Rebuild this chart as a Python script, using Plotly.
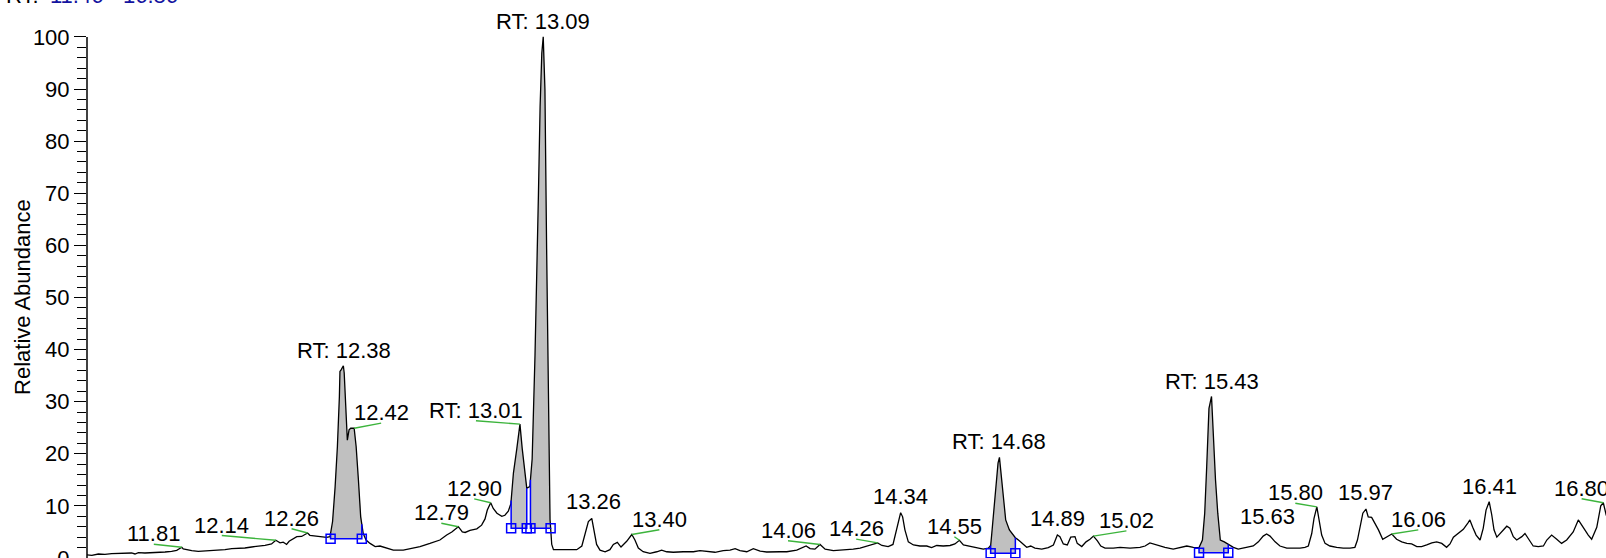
import numpy as np
import plotly.graph_objects as go

# ---------------- data (retention time in min, relative abundance in %) ----------------
rt = [11.478, 11.495, 11.518, 11.541, 11.565, 11.588, 11.612, 11.635, 11.647, 11.659,
      11.682, 11.706, 11.729, 11.753, 11.776, 11.794, 11.806, 11.812, 11.817, 11.829,
      11.847, 11.870, 11.894, 11.917, 11.940, 11.964, 11.988, 12.011, 12.034, 12.058,
      12.081, 12.105, 12.128, 12.143, 12.158, 12.169, 12.175, 12.181, 12.190, 12.205,
      12.217, 12.234, 12.255, 12.263, 12.281, 12.293, 12.310, 12.322, 12.334, 12.343,
      12.352, 12.360, 12.367, 12.369, 12.373, 12.381, 12.384, 12.389, 12.395, 12.401,
      12.407, 12.419, 12.426, 12.434, 12.442, 12.451, 12.461, 12.475, 12.493, 12.510,
      12.534, 12.557, 12.592, 12.627, 12.651, 12.686, 12.721, 12.745, 12.763, 12.786,
      12.800, 12.810, 12.827, 12.851, 12.868, 12.880, 12.888, 12.900, 12.909, 12.922,
      12.939, 12.950, 12.962, 12.971, 12.980, 12.992, 13.003, 13.011, 13.021, 13.027,
      13.038, 13.046, 13.056, 13.062, 13.068, 13.074, 13.080, 13.085, 13.091, 13.097,
      13.103, 13.109, 13.115, 13.121, 13.133, 13.168, 13.203, 13.221, 13.232, 13.244,
      13.256, 13.264, 13.273, 13.285, 13.303, 13.320, 13.332, 13.346, 13.359, 13.379,
      13.397, 13.408, 13.420, 13.437, 13.461, 13.485, 13.502, 13.520, 13.543, 13.578,
      13.614, 13.637, 13.661, 13.690, 13.719, 13.743, 13.761, 13.778, 13.802, 13.825,
      13.849, 13.872, 13.919, 13.943, 13.978, 13.995, 14.011, 14.025, 14.042, 14.060,
      14.078, 14.107, 14.142, 14.177, 14.201, 14.222, 14.243, 14.263, 14.278, 14.300,
      14.317, 14.330, 14.344, 14.351, 14.359, 14.371, 14.389, 14.412, 14.436, 14.453,
      14.471, 14.494, 14.518, 14.535, 14.551, 14.565, 14.588, 14.612, 14.635, 14.653,
      14.661, 14.665, 14.673, 14.680, 14.687, 14.692, 14.699, 14.706, 14.714, 14.727,
      14.741, 14.748, 14.762, 14.776, 14.788, 14.802, 14.817, 14.841, 14.864, 14.882,
      14.896, 14.905, 14.917, 14.931, 14.943, 14.958, 14.966, 14.982, 14.997, 15.011,
      15.023, 15.037, 15.049, 15.064, 15.093, 15.117, 15.152, 15.187, 15.205, 15.222,
      15.234, 15.252, 15.275, 15.304, 15.328, 15.352, 15.375, 15.395, 15.407, 15.415,
      15.422, 15.430, 15.439, 15.446, 15.453, 15.461, 15.470, 15.484, 15.498, 15.516,
      15.533, 15.551, 15.569, 15.586, 15.604, 15.621, 15.633, 15.645, 15.663, 15.680,
      15.704, 15.727, 15.751, 15.768, 15.780, 15.792, 15.800, 15.810, 15.818, 15.827,
      15.839, 15.856, 15.880, 15.903, 15.927, 15.944, 15.953, 15.962, 15.972, 15.983,
      15.991, 16.003, 16.015, 16.027, 16.042, 16.056, 16.074, 16.091, 16.109, 16.127,
      16.144, 16.162, 16.179, 16.197, 16.215, 16.232, 16.250, 16.267, 16.279, 16.291,
      16.308, 16.326, 16.343, 16.349, 16.359, 16.371, 16.385, 16.396, 16.406, 16.417,
      16.426, 16.434, 16.444, 16.458, 16.467, 16.479, 16.490, 16.502, 16.514, 16.532,
      16.543, 16.555, 16.572, 16.590, 16.608, 16.620, 16.637, 16.655, 16.672, 16.690,
      16.713, 16.731, 16.749, 16.766, 16.778, 16.796, 16.810, 16.819, 16.829, 16.845]

abundance = [0.60, 0.52, 0.77, 0.71, 0.83, 0.90, 0.90, 0.96, 0.77, 1.02,
             0.96, 1.02, 1.02, 1.15, 1.29, 1.48, 1.86, 2.05, 1.73, 1.54,
             1.40, 1.29, 1.34, 1.40, 1.48, 1.59, 1.79, 1.79, 1.92, 2.11,
             2.25, 2.44, 2.69, 3.40, 2.90, 3.05, 2.82, 2.60, 3.21, 3.78,
             4.09, 4.13, 4.80, 4.36, 4.28, 4.09, 4.09, 3.97, 4.10, 7.0,
             13.7, 21.4, 31.0, 35.8, 36.1, 36.9, 35.5, 29.7, 22.6, 24.6,
             24.9, 24.9, 21.4, 15.0, 7.9, 4.7, 3.45, 2.8, 2.2, 2.3,
             1.9, 1.5, 1.5, 1.9, 2.2, 2.8, 3.45, 4.4, 5.0, 6.0,
             5.0, 4.9, 5.3, 5.6, 6.3, 7.5, 9.2, 10.6, 9.5, 8.6,
             8.0, 8.2, 9.0, 10.4, 16.3, 21.0, 25.7, 21.0, 15.6, 13.4,
             13.7, 19.0, 38.8, 52.5, 69.5, 86.6, 96.9, 100.0, 90.0, 59.3,
             28.6, 7.4, 2.6, 1.6, 1.6, 1.6, 1.6, 2.3, 4.6, 7.0,
             7.6, 5.4, 2.6, 1.5, 1.2, 1.6, 2.6, 3.0, 2.1, 3.2,
             4.5, 3.45, 1.9, 1.2, 0.9, 1.2, 1.5, 1.2, 1.1, 1.2,
             1.2, 1.4, 1.3, 1.1, 1.4, 1.5, 1.8, 1.4, 1.2, 1.8,
             1.3, 1.15, 1.2, 1.2, 1.5, 1.9, 2.3, 1.8, 1.7, 2.6,
             1.7, 1.4, 1.5, 1.7, 1.9, 2.2, 2.6, 2.9, 2.4, 2.2,
             2.6, 5.4, 8.7, 7.9, 5.4, 3.1, 2.5, 2.3, 2.3, 2.0,
             2.4, 2.3, 2.4, 2.7, 3.4, 2.5, 2.2, 1.9, 1.7, 1.9,
             2.4, 4.7, 9.2, 14.3, 18.2, 19.3, 15.6, 11.1, 7.3, 5.4,
             4.4, 3.9, 3.3, 2.7, 2.05, 2.3, 1.9, 1.7, 2.0, 2.5,
             4.4, 4.1, 2.7, 2.5, 4.0, 4.1, 2.8, 2.2, 3.1, 3.6,
             4.2, 3.3, 2.3, 1.9, 1.9, 2.05, 1.9, 2.05, 2.3, 2.9,
             2.7, 2.3, 2.05, 1.7, 2.05, 2.3, 2.05, 2.0, 3.45, 8.6,
             17.5, 28.7, 31.0, 22.6, 15.0, 8.6, 3.45, 3.1, 2.6, 2.05,
             1.7, 1.9, 2.05, 2.3, 3.1, 4.2, 4.6, 4.2, 3.1, 2.3,
             1.9, 1.9, 1.9, 2.05, 2.3, 4.7, 7.6, 9.8, 7.3, 4.4,
             2.8, 2.3, 2.05, 1.9, 1.9, 2.05, 3.45, 6.0, 8.6, 9.4,
             7.9, 7.8, 6.7, 5.4, 3.6, 4.0, 4.6, 3.6, 3.1, 2.8,
             2.7, 2.2, 2.2, 2.5, 2.9, 3.1, 2.8, 2.05, 2.7, 4.0,
             4.7, 5.5, 6.8, 7.3, 5.9, 4.4, 3.45, 5.7, 9.2, 10.8,
             8.3, 5.4, 4.0, 4.9, 5.4, 6.1, 5.7, 4.1, 3.45, 4.1,
             4.7, 3.8, 2.3, 2.2, 2.3, 3.45, 4.4, 3.6, 2.8, 3.45,
             5.0, 7.3, 5.7, 4.4, 3.6, 5.9, 10.0, 10.6, 8.3, 6.0]

# peak labels
label_text = ["11.81", "12.14", "12.26", "RT: 12.38", "12.42", "12.79", "12.90",
              "RT: 13.01", "RT: 13.09", "13.26", "13.40", "14.06", "14.26", "14.34",
              "14.55", "RT: 14.68", "14.89", "15.02", "RT: 15.43", "15.63", "15.80",
              "15.97", "16.06", "16.41", "16.80"]
label_rt = [11.812, 12.143, 12.255, 12.381, 12.419, 12.786, 12.900,
            13.003, 13.085, 13.256, 13.397, 14.060, 14.263, 14.344,
            14.551, 14.692, 14.896, 15.023, 15.439, 15.633, 15.810,
            15.983, 16.074, 16.417, 16.819]

# integrated peaks: start RT, end RT, baseline level
int_start = [12.336, 12.972, 13.040, 14.661, 15.395]
int_end = [12.446, 13.027, 13.111, 14.748, 15.498]
int_base = [3.7, 5.7, 5.7, 0.9, 1.0]

title_range = "11.46 - 16.86"

# ---------------- layout / style parameters ----------------
label_dx = [-28, -54, -16, 1, 27, -17, -16.5, -44, 0, 2, 27.6, -32, -21.5, 0,
            -5, 0, 0, 33, 0, 1, -21.5, 0, 26.5, 0.7, -21.7]
label_dy = [4.6, 6.3, 5.7, 6.4, 6.6, 5.0, 5.4, 4.8, 7.0, 7.7, 6.3, 5.2, 5.3, 7.7,
            5.0, 6.7, 7.7, 6.7, 6.5, 8.3, 5.2, 8.0, 5.7, 6.7, 5.5]

FONT = "Arial, Liberation Sans, sans-serif"
FS = 22
DESC = 0.212 * FS + 1  # baseline offset inside annotation box
BLUE = "#0000FF"
GREEN = "#3CB43C"

rt_arr = np.array(rt)
ab_arr = np.array(abundance)
ab_at = dict(zip(rt, abundance))

fig = go.Figure()

# gray integrated areas
for s, e, b in zip(int_start, int_end, int_base):
    m = (rt_arr > s) & (rt_arr < e)
    xs = [s] + list(rt_arr[m]) + [e]
    ys = [float(np.interp(s, rt_arr, ab_arr))] + list(ab_arr[m]) + [float(np.interp(e, rt_arr, ab_arr))]
    fig.add_trace(go.Scatter(x=xs + [e, s], y=ys + [b, b], mode="lines", fill="toself",
                             fillcolor="#C0C0C0", line=dict(width=0), hoverinfo="skip",
                             showlegend=False))

# chromatogram trace
fig.add_trace(go.Scatter(x=rt, y=abundance, mode="lines",
                         line=dict(color="black", width=1.3), showlegend=False))

# blue baselines, boundary lines and squares
for s, e, b in zip(int_start, int_end, int_base):
    ys_s = float(np.interp(s, rt_arr, ab_arr))
    ys_e = float(np.interp(e, rt_arr, ab_arr))
    fig.add_trace(go.Scatter(x=[s, s, e, e], y=[ys_s, b, b, ys_e], mode="lines",
                             line=dict(color=BLUE, width=1.5), showlegend=False))
    fig.add_trace(go.Scatter(x=[s, e], y=[b, b], mode="markers",
                             marker=dict(symbol="square-open", size=9, color=BLUE,
                                         line=dict(width=1.5, color=BLUE)),
                             showlegend=False))

annotations = []
shapes = []
for t, x, dx, dy in zip(label_text, label_rt, label_dx, label_dy):
    y = ab_at[x]
    annotations.append(dict(x=x, y=y, xref="x", yref="y", text=t, showarrow=False,
                            xanchor="center", yanchor="bottom", xshift=dx, yshift=dy - DESC,
                            font=dict(family=FONT, size=FS, color="black")))
    if abs(dx) > 4:
        shapes.append(dict(type="line", xref="x", yref="y", xsizemode="pixel", ysizemode="pixel",
                           xanchor=x, yanchor=y, x0=0, x1=dx, y0=0, y1=dy - 1.5,
                           line=dict(color=GREEN, width=1.4)))

# y axis line from 0 to 100
shapes.append(dict(type="line", xref="paper", yref="y", x0=0, x1=0, y0=0, y1=100,
                   line=dict(color="black", width=1.5)))

# axis title
annotations.append(dict(x=-64.5 / 1519, y=50, xref="paper", yref="y", text="Relative Abundance",
                        textangle=-90, showarrow=False, xanchor="center", yanchor="middle",
                        font=dict(family=FONT, size=FS, color="black")))
# cut-off header
annotations.append(dict(x=(4 - 87) / 1519, y=1 - (4 + DESC) / 558, xref="paper", yref="paper",
                        text="RT:", showarrow=False, xanchor="left", yanchor="bottom",
                        font=dict(family=FONT, size=FS, color="black")))
annotations.append(dict(x=(48 - 87) / 1519, y=1 - (4 + DESC) / 558, xref="paper", yref="paper",
                        text=title_range, showarrow=False, xanchor="left", yanchor="bottom",
                        font=dict(family=FONT, size=FS, color="#1414A0")))

fig.update_layout(
    width=1606, height=558,
    margin=dict(l=87, r=0, t=0, b=0, autoexpand=False),
    plot_bgcolor="white", paper_bgcolor="white",
    showlegend=False,
    annotations=annotations,
    shapes=shapes,
    xaxis=dict(range=[11.478, 16.8285], visible=False, automargin=False),
    yaxis=dict(range=[0, 107.08], tickvals=list(range(0, 101, 10)),
               automargin=False,
               ticks="outside", ticklen=12, tickwidth=1.3, tickcolor="black",
               showgrid=False, zeroline=False, showline=False,
               ticklabeloverflow="allow",
               tickfont=dict(family=FONT, size=FS, color="black"),
               minor=dict(tickvals=list(range(0, 101, 2)), ticks="outside", ticklen=9,
                          tickwidth=1.3, tickcolor="black", showgrid=False)),
)

fig.write_html("out.html",
               config={"displayModeBar": False},
               post_script="document.body.style.margin='0';document.body.style.overflow='hidden';")
